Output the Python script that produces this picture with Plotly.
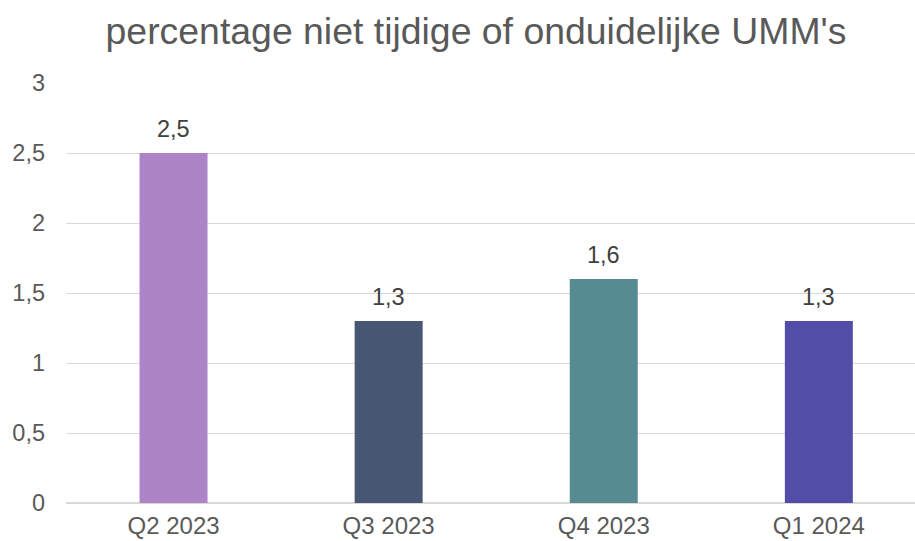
import plotly.graph_objects as go

categories = ["Q2 2023", "Q3 2023", "Q4 2023", "Q1 2024"]
values = [2.5, 1.3, 1.6, 1.3]
bar_colors = ["#AD84C6", "#475672", "#578B94", "#524EA8"]
value_labels = ["2,5", "1,3", "1,6", "1,3"]
y_ticks = [0, 0.5, 1, 1.5, 2, 2.5, 3]
y_tick_labels = ["0", "0,5", "1", "1,5", "2", "2,5", "3"]
title = "percentage niet tijdige of onduidelijke UMM's"

FONT = "Liberation Sans, Arial, sans-serif"

fig = go.Figure()
fig.add_trace(go.Bar(
    x=list(range(len(categories))),
    y=values,
    marker=dict(color=bar_colors, line=dict(width=0)),
    width=0.316,
    hoverinfo="skip",
))

for i, (v, lab) in enumerate(zip(values, value_labels)):
    fig.add_annotation(
        x=i, y=v, text=lab, showarrow=False,
        yanchor="middle", yshift=24,
        font=dict(family=FONT, size=23.5, color="#404040"),
    )

fig.update_layout(
    width=915, height=541,
    margin=dict(l=66, r=0, t=83, b=38),
    paper_bgcolor="white", plot_bgcolor="white",
    showlegend=False,
    separators=",.",
    title=dict(
        text=title, x=476/915, xref="container", xanchor="center",
        y=1 - 31/541, yref="container", yanchor="middle",
        font=dict(family=FONT, size=37.4, color="#595959"),
    ),
    xaxis=dict(
        range=[-0.5, 3.447],
        tickmode="array", tickvals=list(range(len(categories))), ticktext=categories,
        showgrid=False, zeroline=False,
        showline=False, ticks="",
        ticklabelstandoff=6,
        automargin=False,
        tickfont=dict(family=FONT, size=24, color="#595959"),
    ),
    yaxis=dict(
        range=[0, 3],
        tickmode="array", tickvals=y_ticks, ticktext=y_tick_labels,
        showgrid=True, gridcolor="#D9D9D9", gridwidth=1.3,
        zeroline=True, zerolinecolor="#D9D9D9", zerolinewidth=1.6,
        showline=False, ticks="",
        ticklabelstandoff=20,
        automargin=False,
        tickfont=dict(family=FONT, size=23.5, color="#595959"),
    ),
)

fig.write_html("out.html", config={"displayModeBar": False},
               post_script="document.body.style.margin='0';")
